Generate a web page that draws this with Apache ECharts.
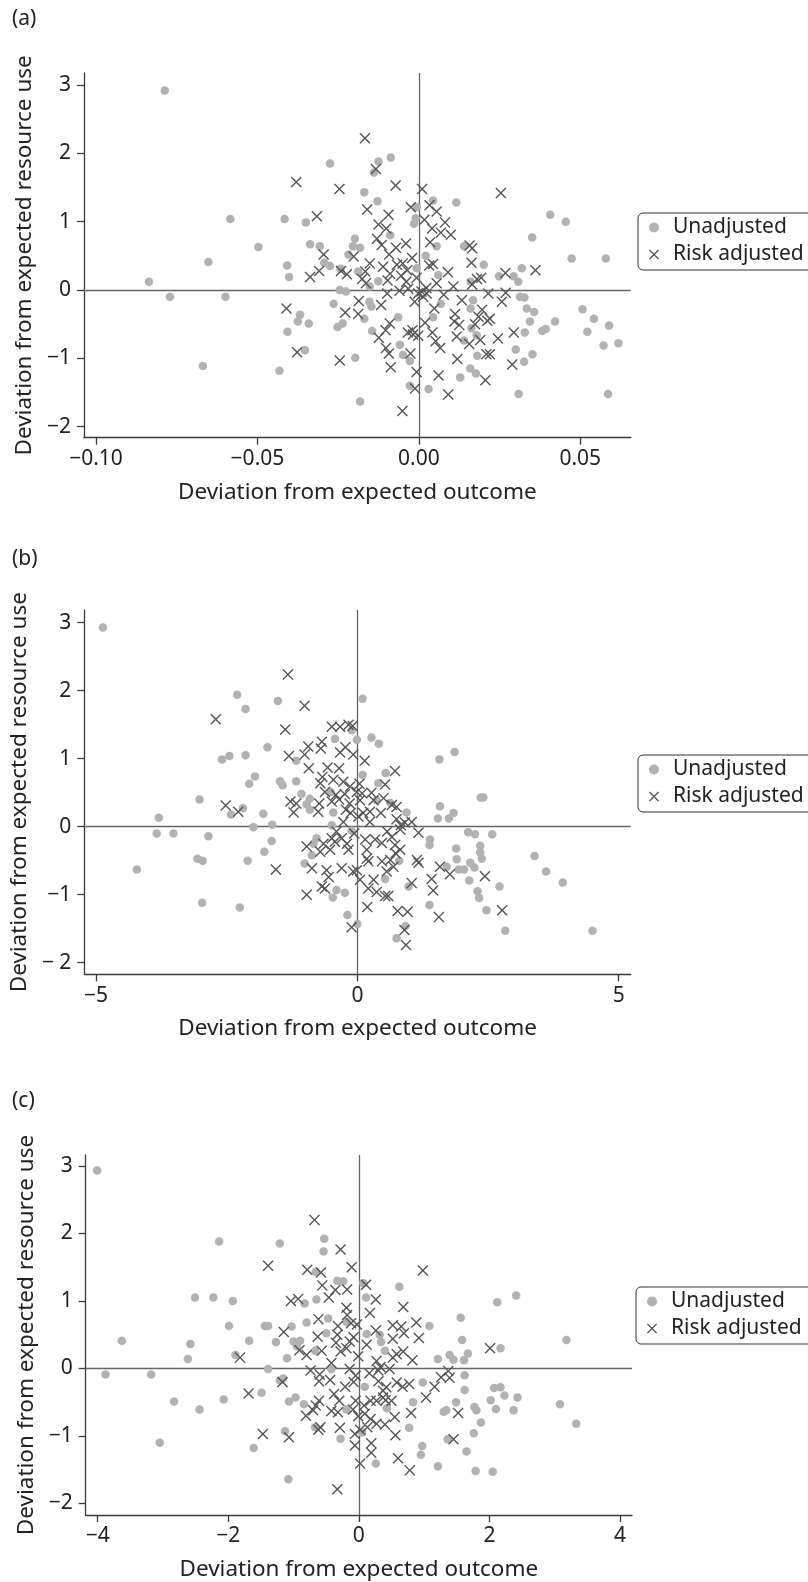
<!DOCTYPE html>
<html><head><meta charset="utf-8">
<script src="https://cdn.jsdelivr.net/npm/echarts@6/dist/echarts.min.js"></script>
<style>html,body{margin:0;padding:0;background:#fff}#c{width:808px;height:1582px}</style>
</head><body><div id="c"></div>
<script>
const panelLabels = ['(a)', '(b)', '(c)'];
const seriesNames = ['Unadjusted', 'Risk adjusted'];
const xTitle = 'Deviation from expected outcome';
const yTitle = 'Deviation from expected resource use';
const xTicksA = [-0.10, -0.05, 0, 0.05];
const xTicksB = [-5, 0, 5];
const xTicksC = [-4, -2, 0, 2, 4];
const yTicks = [-2, -1, 0, 1, 2, 3];

const unadjA = [[-0.0787,2.92],[-0.0584,1.04],[-0.0497,0.63],[-0.0652,0.41],[-0.0836,0.12],[-0.0771,-0.10],[-0.0599,-0.10],[-0.0669,-1.11],
[0.0407,1.10],[0.0455,1.00],[0.0473,0.46],[0.0579,0.46],[0.0507,-0.28],[0.0542,-0.42],[0.0589,-0.52],[0.0522,-0.61],[0.0572,-0.81],[0.0618,-0.78],[0.0586,-1.52],[0.0422,-0.46],[0.0393,-0.57],[0.0382,-0.60],
[-0.0275,1.85],[-0.0125,1.88],[-0.0087,1.94],[-0.0139,1.72],[-0.0169,1.43],[-0.0128,1.30],[0.0044,1.31],[0.0116,1.28],[-0.0007,1.21],[-0.0416,1.04],[-0.0350,0.99],[-0.0010,1.05],[-0.0015,0.97],[-0.0089,0.80],[0.0351,0.77],[-0.0198,0.75],[-0.0204,0.64],[-0.0182,0.62],[-0.0337,0.67],[-0.0307,0.64],[0.0055,0.64],[0.0140,0.64],[-0.0218,0.52],[-0.0293,0.40],[-0.0275,0.35],[0.0021,0.50],[0.0201,0.37],[-0.0408,0.36],[-0.0243,0.31],[-0.0007,0.32],[-0.0188,0.27],[0.0319,0.32],[0.0248,0.20],[0.0293,0.20],[0.0308,0.12],[-0.0402,0.19],[0.0060,0.22],[-0.0126,0.13],[0.0160,0.12],[-0.0245,0.00],[-0.0226,-0.02],[-0.0152,0.05],[0.0313,-0.10],[0.0327,-0.11],[-0.0264,-0.20],[-0.0153,-0.17],[-0.0147,-0.24],[0.0068,-0.20],[0.0168,-0.15],[0.0334,-0.27],[0.0357,-0.32],[0.0344,-0.46],[-0.0368,-0.36],[-0.0375,-0.46],[-0.0341,-0.49],[-0.0236,-0.49],[-0.0252,-0.54],[-0.0169,-0.42],[0.0160,-0.27],[-0.0064,-0.40],[0.0044,-0.40],[-0.0145,-0.60],[-0.0407,-0.61],[0.0328,-0.62],[0.0163,-0.56],[0.0179,-0.66],[0.0140,-0.74],[-0.0059,-0.80],[-0.0049,-0.95],[0.0300,-0.87],[-0.0353,-0.88],[0.0352,-0.94],[0.0181,-0.96],[-0.0197,-0.99],[-0.0028,-1.04],[0.0326,-1.05],[-0.0432,-1.18],[0.0159,-1.15],[0.0177,-1.22],[0.0128,-1.28],[-0.0028,-1.40],[0.0030,-1.45],[0.0309,-1.52],[-0.0182,-1.63]];

const riskA = [[-0.0167,2.22],[-0.0133,1.77],[-0.0380,1.58],[-0.0246,1.48],[-0.0072,1.53],[0.0010,1.48],[0.0254,1.42],[-0.0025,1.21],[0.0033,1.24],[-0.0160,1.18],[-0.0094,1.10],[0.0055,1.15],[-0.0316,1.08],[0.0017,1.03],[-0.0125,0.96],[0.0081,0.99],[0.0041,0.90],[-0.0101,0.90],[0.0099,0.81],[0.0068,0.84],[-0.0130,0.75],[-0.0115,0.66],[-0.0040,0.68],[0.0035,0.70],[-0.0071,0.62],[0.0157,0.65],[0.0165,0.61],[-0.0295,0.52],[-0.0202,0.49],[-0.0092,0.52],[-0.0152,0.39],[-0.0021,0.47],[-0.0050,0.39],[-0.0068,0.37],[0.0163,0.40],[-0.0309,0.28],[-0.0241,0.28],[-0.0223,0.23],[-0.0111,0.34],[0.0044,0.38],[0.0032,0.36],[-0.0166,0.27],[-0.0036,0.29],[0.0090,0.26],[-0.0089,0.24],[0.0361,0.29],[0.0268,0.25],[-0.0337,0.19],[-0.0176,0.16],[-0.0055,0.21],[-0.0007,0.18],[0.0180,0.16],[0.0193,0.18],[-0.0097,0.14],[-0.0039,0.12],[0.0055,0.10],[-0.0164,0.10],[0.0107,0.05],[0.0165,0.08],[0.0023,0.03],[-0.0033,0.02],[0.0269,-0.04],[0.0215,-0.05],[0.0008,-0.02],[0.0024,-0.05],[0.0013,-0.10],[-0.0002,-0.05],[-0.0098,-0.05],[-0.0060,-0.01],[0.0077,-0.07],[-0.0186,-0.16],[0.0133,-0.15],[0.0257,-0.17],[-0.0410,-0.27],[-0.0117,-0.22],[-0.0013,-0.17],[0.0048,-0.27],[-0.0228,-0.33],[-0.0188,-0.35],[-0.0090,-0.49],[0.0112,-0.35],[0.0196,-0.29],[0.0185,-0.39],[0.0174,-0.50],[0.0110,-0.46],[0.0125,-0.51],[0.0212,-0.45],[0.0220,-0.42],[0.0019,-0.48],[-0.0103,-0.59],[-0.0034,-0.62],[-0.0018,-0.65],[-0.0002,-0.67],[-0.0020,-0.59],[-0.0124,-0.70],[0.0294,-0.62],[0.0042,-0.62],[0.0117,-0.68],[0.0052,-0.75],[0.0190,-0.73],[0.0156,-0.79],[0.0245,-0.71],[-0.0102,-0.85],[0.0066,-0.85],[-0.0026,-0.93],[-0.0377,-0.91],[-0.0093,-0.93],[0.0209,-0.94],[0.0220,-0.94],[0.0119,-1.01],[-0.0245,-1.03],[-0.0087,-1.13],[0.0289,-1.09],[-0.0007,-1.20],[0.0061,-1.25],[0.0206,-1.32],[-0.0012,-1.44],[0.0091,-1.53],[-0.0051,-1.77]];

const unadjB = [[-4.87,2.93],[-4.22,-0.63],[-3.80,0.13],[-3.84,-0.10],[-3.52,-0.10],[-3.02,0.40],[-2.85,-0.14],[-3.06,-0.47],[-2.96,-0.50],[-2.97,-1.12],[-2.25,-1.19],[-2.30,1.94],[-2.14,1.73],[-2.59,0.99],[-2.45,1.04],[-2.14,1.05],[-2.07,0.63],[-1.96,0.74],[-2.42,0.18],[-2.19,0.27],[-2.10,-0.50],[-1.99,-0.01],
[2.36,0.43],[2.41,0.43],[2.12,-0.08],[2.25,-0.11],[2.58,-0.11],[2.35,-0.28],[2.35,-0.38],[2.38,-0.47],[3.39,-0.43],[3.61,-0.66],[3.93,-0.82],[2.16,-0.53],[2.24,-0.60],[2.04,-0.63],[2.14,-0.79],[2.30,-0.95],[2.33,-1.05],[2.47,-1.23],[2.72,-0.88],[2.83,-1.53],[4.50,-1.53],
[-1.52,1.85],[0.10,1.88],[-0.11,1.42],[-0.43,1.29],[-0.01,1.28],[0.27,1.31],[0.41,1.22],[-1.72,1.17],[-1.17,0.97],[1.86,1.10],[1.57,0.99],[0.54,0.79],[0.10,0.76],[-1.48,0.67],[-1.43,0.61],[-1.17,0.67],[0.40,0.64],[-0.51,0.51],[-1.07,0.48],[-0.91,0.41],[-0.97,0.33],[-0.91,0.25],[0.37,0.39],[0.63,0.35],[1.58,0.30],[-0.46,0.21],[0.94,0.21],[1.54,0.12],[1.75,0.12],[1.84,0.20],[-1.80,0.19],[-1.63,0.03],[-0.49,0.02],[-0.11,-0.06],[-1.64,-0.21],[-1.78,-0.37],[-0.78,-0.17],[-0.84,-0.25],[1.39,-0.19],[1.38,-0.27],[1.89,-0.32],[1.90,-0.48],[-0.87,-0.42],[-1.01,-0.54],[0.80,-0.50],[1.71,-0.59],[1.94,-0.63],[0.53,-0.77],[0.98,-0.88],[-0.40,-0.93],[-0.47,-1.04],[-0.24,-0.97],[1.38,-1.15],[-0.19,-1.30],[0.00,-1.43],[0.92,-1.46],[0.75,-1.64]];

const riskB = [[-1.33,2.24],[-1.01,1.78],[-1.38,1.43],[-0.49,1.47],[-0.33,1.47],[-0.17,1.50],[-0.09,1.48],[-0.94,1.18],[-0.68,1.25],[-0.70,1.15],[-0.23,1.17],[-0.33,1.09],[-1.31,1.04],[-1.01,1.06],[-0.08,1.06],[0.14,0.97],[-0.93,0.86],[-0.57,0.87],[-0.35,0.86],[0.72,0.82],[-0.67,0.73],[-0.71,0.64],[-0.46,0.69],[-0.27,0.66],[0.04,0.63],[-0.14,0.59],[0.53,0.62],[-0.62,0.51],[-0.41,0.47],[-0.24,0.48],[-0.01,0.51],[0.09,0.49],[0.27,0.50],[-1.28,0.37],[-1.17,0.34],[-1.22,0.21],[-0.73,0.34],[-0.49,0.37],[-0.35,0.40],[-0.15,0.34],[0.05,0.39],[0.31,0.39],[0.50,0.42],[0.66,0.32],[0.75,0.29],[-0.75,0.22],[-0.22,0.25],[-0.13,0.20],[0.11,0.20],[0.24,0.22],[0.45,0.20],[1.04,0.07],[-0.27,0.07],[0.02,0.15],[0.24,0.07],[0.75,0.11],[0.83,0.02],[0.91,0.06],[1.17,-0.09],[-0.40,-0.07],[-0.49,-0.17],[-0.30,-0.17],[-0.06,-0.10],[0.57,-0.07],[0.82,-0.04],[-0.97,-0.29],[-0.65,-0.25],[-0.43,-0.22],[-0.20,-0.25],[0.15,-0.19],[0.34,-0.19],[0.47,-0.24],[0.66,-0.15],[0.72,-0.27],[-0.71,-0.37],[-0.52,-0.34],[-0.17,-0.34],[0.18,-0.34],[0.73,-0.39],[0.82,-0.34],[-1.56,-0.63],[-0.87,-0.61],[-0.59,-0.64],[-0.30,-0.61],[-0.08,-0.66],[0.18,-0.47],[0.21,-0.51],[0.47,-0.51],[0.63,-0.49],[0.69,-0.59],[1.14,-0.49],[1.17,-0.53],[1.58,-0.59],[1.77,-0.70],[-0.55,-0.74],[-0.01,-0.64],[0.05,-0.78],[0.31,-0.78],[0.56,-0.66],[1.04,-0.83],[1.42,-0.77],[-0.97,-1.00],[-0.68,-0.88],[-0.62,-0.91],[0.21,-0.91],[0.37,-0.96],[0.59,-1.02],[0.53,-1.02],[1.45,-0.94],[0.19,-1.18],[0.77,-1.24],[0.96,-1.25],[1.56,-1.33],[-0.11,-1.48],[0.90,-1.52],[0.93,-1.74],[-2.71,1.58],[-2.52,0.31],[-2.28,0.22],[2.44,-0.73],[2.77,-1.23]];

const unadjC = [[-4.01,2.93],[-3.88,-0.09],[-3.63,0.41],[-3.18,-0.09],[-3.05,-1.10],[-2.83,-0.49],[-2.58,0.36],[-2.62,0.14],[-2.51,1.05],[-2.44,-0.61],[-2.23,1.05],[-2.14,1.88],[-2.07,-0.46],[-1.93,1.00],[-1.99,0.63],[-1.89,0.20],[-1.68,0.41],
[2.12,0.98],[2.41,1.08],[1.56,0.75],[1.58,0.42],[1.67,0.22],[2.17,0.30],[3.18,0.42],[1.61,0.12],[1.62,-0.10],[1.62,-0.32],[2.07,-0.29],[2.17,-0.28],[2.23,-0.40],[2.43,-0.43],[2.02,-0.47],[2.10,-0.60],[2.37,-0.62],[3.08,-0.53],[3.33,-0.82],[1.77,-0.57],[1.80,-0.62],[1.87,-0.80],[1.76,-0.96],[1.65,-1.23],[1.79,-1.52],[2.05,-1.53],
[-1.21,1.85],[-0.53,1.92],[-0.54,1.73],[-0.33,1.30],[-0.24,1.29],[0.07,1.26],[0.62,1.21],[0.11,1.05],[-0.65,1.02],[-0.83,0.96],[-1.44,0.63],[-1.39,0.63],[-1.03,0.62],[-0.80,0.68],[-0.47,0.74],[1.08,0.63],[-0.19,0.69],[-0.50,0.52],[0.12,0.51],[0.32,0.50],[-1.27,0.39],[-1.00,0.40],[-0.90,0.41],[-0.95,0.33],[0.34,0.39],[0.40,0.26],[-0.67,0.26],[-1.10,0.15],[1.39,0.20],[1.45,0.13],[1.21,0.14],[-1.39,-0.01],[-0.42,-0.01],[-1.21,-0.18],[-1.16,-0.15],[-1.49,-0.36],[0.09,-0.27],[0.98,-0.21],[-1.07,-0.49],[-0.97,-0.43],[-0.84,-0.53],[-0.19,-0.61],[0.43,-0.59],[0.83,-0.50],[1.30,-0.64],[1.34,-0.62],[1.49,-0.50],[-0.67,-0.87],[-0.28,-1.04],[0.05,-0.95],[0.77,-0.88],[0.97,-1.15],[0.95,-1.28],[1.36,-1.05],[0.26,-1.41],[1.21,-1.45],[-1.08,-1.64],[-1.61,-1.18],[-0.66,1.43],[-1.13,-0.93]];

const riskC = [[-0.68,2.20],[-0.28,1.76],[-1.39,1.52],[-0.79,1.46],[-0.58,1.42],[-0.11,1.50],[0.98,1.45],[-0.56,1.23],[-0.36,1.16],[-0.18,1.17],[-0.46,1.05],[0.11,1.24],[0.26,1.02],[-1.04,1.00],[-0.93,1.03],[0.68,0.91],[-0.19,0.90],[0.17,0.82],[-0.18,0.79],[-0.62,0.73],[-0.32,0.63],[-0.12,0.67],[-0.03,0.65],[-1.15,0.54],[0.52,0.64],[0.65,0.62],[0.88,0.68],[0.26,0.56],[-0.63,0.47],[0.69,0.52],[0.52,0.44],[0.92,0.45],[-0.33,0.50],[-0.08,0.46],[-0.14,0.40],[0.12,0.35],[-0.91,0.27],[-0.80,0.20],[-0.57,0.26],[-0.35,0.38],[-0.28,0.25],[-0.19,0.30],[-0.01,0.18],[0.27,0.11],[0.33,0.02],[0.30,-0.03],[0.52,0.16],[0.58,0.21],[0.68,0.25],[0.82,0.12],[-0.74,-0.03],[-0.60,-0.09],[-0.42,0.08],[-0.14,-0.01],[-0.05,-0.11],[0.16,-0.07],[0.47,-0.01],[1.37,-0.04],[1.39,-0.14],[1.26,-0.13],[1.16,-0.27],[-1.17,-0.20],[-0.61,-0.19],[-0.44,-0.17],[-0.21,-0.27],[-0.08,-0.20],[0.30,-0.19],[0.42,-0.28],[0.37,-0.33],[0.58,-0.21],[0.67,-0.27],[0.77,-0.23],[1.03,-0.43],[-0.61,-0.48],[-0.38,-0.38],[-0.30,-0.48],[-0.05,-0.48],[0.08,-0.55],[0.18,-0.48],[0.27,-0.48],[0.37,-0.43],[0.41,-0.47],[0.50,-0.48],[-0.81,-0.70],[-0.70,-0.62],[-0.66,-0.55],[-0.42,-0.63],[-0.32,-0.65],[-0.09,-0.61],[-0.01,-0.71],[0.09,-0.67],[0.18,-0.75],[0.27,-0.82],[0.40,-0.83],[0.55,-0.72],[0.80,-0.66],[-0.62,-0.91],[-0.59,-0.87],[-0.29,-0.88],[-0.06,-0.97],[0.02,-0.91],[0.13,-0.87],[0.56,-0.99],[-1.47,-0.97],[-1.07,-1.02],[1.45,-1.05],[-0.06,-1.14],[0.19,-1.11],[0.19,-1.25],[0.60,-1.33],[0.02,-1.41],[0.78,-1.51],[-0.33,-1.79],[-1.82,0.16],[-1.69,-0.37],[2.01,0.30],[1.52,-0.66]];

const FONT = '"Noto Sans", "Open Sans", sans-serif';
const TXT = '#222';
const AX = '#3a3a3a';
const REF = '#666';
const GRAY = '#b2b2b2';
const DARK = '#555';
const XPATH = 'path://M0,9L9,0L50,41L91,0L100,9L59,50L100,91L91,100L50,59L9,100L0,91L41,50Z';

const minus = s => String(s).replace('-', '\u2212');

const panels = [
  {grid: {left: 84, top: 73, width: 546.7, height: 364.7}, xMin: -0.10372, xMax: 0.06561, yMin: -2.161, yMax: 3.176,
   xTicks: xTicksA, xFmt: v => minus(v.toFixed(2)), yFmt: v => minus(v), unadj: unadjA, risk: riskA,
   legendPos: {left: 638, top: 213}, labelTop: 9},
  {grid: {left: 84.3, top: 610, width: 546.4, height: 364.3}, xMin: -5.224, xMax: 5.23, yMin: -2.171, yMax: 3.187,
   xTicks: xTicksB, xFmt: v => minus(v), yFmt: v => (v === -2 ? '\u2212 2' : minus(v)), unadj: unadjB, risk: riskB,
   legendPos: {left: 638, top: 755}, labelTop: 549},
  {grid: {left: 85.7, top: 1155, width: 546.3, height: 364}, xMin: -4.184, xMax: 4.184, yMin: -2.171, yMax: 3.161,
   xTicks: xTicksC, xFmt: v => minus(v), yFmt: v => minus(v), unadj: unadjC, risk: riskC,
   legendPos: {left: 636, top: 1287}, labelTop: 1091}
];

const option = {
  animation: false,
  backgroundColor: '#fff',
  textStyle: {fontFamily: FONT},
  grid: [], xAxis: [], yAxis: [], series: [], legend: [], graphic: []
};

panels.forEach((p, i) => {
  option.grid.push(Object.assign({containLabel: false}, p.grid));
  option.xAxis.push({
    type: 'value', gridIndex: i, min: p.xMin, max: p.xMax,
    name: xTitle, nameLocation: 'middle', nameGap: 43,
    nameTextStyle: {fontSize: 22.5, color: TXT, fontFamily: FONT},
    axisLine: {show: true, onZero: false, lineStyle: {color: AX, width: 1.3}},
    axisTick: {show: true, inside: false, length: 7, customValues: p.xTicks, lineStyle: {color: AX, width: 1.3}},
    axisLabel: {customValues: p.xTicks, formatter: p.xFmt, fontSize: 21, color: TXT, fontFamily: FONT, margin: 11},
    splitLine: {show: false}
  });
  option.yAxis.push({
    type: 'value', gridIndex: i, min: p.yMin, max: p.yMax,
    name: yTitle, nameLocation: 'middle', nameGap: 45, nameRotate: 90,
    nameTextStyle: {fontSize: 22.5, color: TXT, fontFamily: FONT},
    axisLine: {show: true, onZero: false, lineStyle: {color: AX, width: 1.3}},
    axisTick: {show: true, inside: false, length: 7, customValues: yTicks, lineStyle: {color: AX, width: 1.3}},
    axisLabel: {customValues: yTicks, formatter: p.yFmt, fontSize: 21, color: TXT, fontFamily: FONT, margin: 13},
    splitLine: {show: false}
  });
  option.series.push({
    type: 'scatter', name: seriesNames[0], xAxisIndex: i, yAxisIndex: i,
    data: p.unadj, symbol: 'circle', symbolSize: 8.5, z: 2,
    itemStyle: {color: GRAY, opacity: 1},
    markLine: {
      silent: true, symbol: ['none', 'none'], label: {show: false}, z: 1,
      lineStyle: {color: REF, width: 1.3, type: 'solid'},
      emphasis: {disabled: true},
      data: [{xAxis: 0}, {yAxis: 0}]
    }
  });
  option.series.push({
    type: 'scatter', name: seriesNames[1], xAxisIndex: i, yAxisIndex: i,
    data: p.risk, symbol: XPATH, symbolSize: 11, z: 3,
    itemStyle: {color: DARK, opacity: 1}
  });
  option.legend.push({
    data: seriesNames, orient: 'vertical', align: 'left',
    left: p.legendPos.left, top: p.legendPos.top,
    itemWidth: 28, itemHeight: 10, itemGap: 6,
    padding: [4, 14, 5, 11],
    borderColor: '#333', borderWidth: 1, borderRadius: 5,
    selectedMode: false,
    textStyle: {fontSize: 21, color: TXT, fontFamily: FONT}
  });
  option.graphic.push({
    type: 'text', left: 12, top: p.labelTop,
    style: {text: panelLabels[i], font: '21px ' + FONT, fill: TXT}
  });
});

const chart = echarts.init(document.getElementById('c'), null, {renderer: 'canvas'});
chart.setOption(option);
</script>
</body></html>
